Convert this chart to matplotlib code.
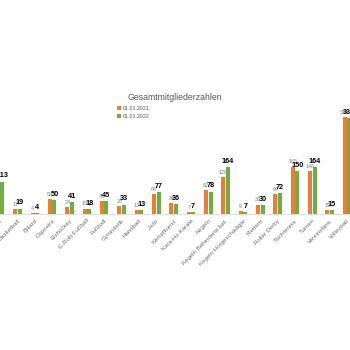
import numpy as np
import matplotlib
matplotlib.use("Agg")
import matplotlib.pyplot as plt

plt.rcParams['font.family'] = ['Liberation Sans', 'DejaVu Sans']

# Data (first category is cut off at the left edge)
categories = ["Ausdauer", "Basketball", "Billard", "Capoeira", "Eishockey",
              "E-Rolli Fußball", "Fußball", "Gymnastik", "Handball", "Judo",
              "Kampfkunst", "Kara-Ho Karate", "Kegeln", "Kegeln Behinderte bef.",
              "Kegeln Hörgeschädigte", "Klettern", "Roller Derby", "Tischtennis",
              "Turnen", "Vereinsfans", "Volleyball"]
v2021 = [110, 17, 4, 52, 24, 19, 45, 28, 13, 68, 39, 7, 82, 128, 9, 33, 69, 165, 148, 15, 338]
v2022 = [113, 19, 4, 50, 41, 18, 45, 33, 13, 77, 36, 7, 78, 164, 7, 30, 72, 150, 164, 15, 333]
series_names = ["01.01.2021", "01.01.2022"]

ORANGE = "#ED7D31"
GREEN = "#70AD47"
GREY = "#595959"

fig = plt.figure(figsize=(3.5, 3.5), dpi=100)
ax = fig.add_axes([0, 136 / 350, 1, 115 / 350])

x = np.arange(len(categories))
w = 0.23
ax.bar(x - 0.13, v2021, width=w, color=ORANGE, label=series_names[0])
ax.bar(x + 0.13, v2022, width=w, color=GREEN, label=series_names[1])

# data labels: small grey for 2021, bold black for 2022
for xi, a, b in zip(x, v2021, v2022):
    ax.annotate(str(a), (xi - 0.13, a), xytext=(0, 1.5), textcoords="offset points",
                ha="center", va="bottom", fontsize=3.9, color="#808080")
    ax.annotate(str(b), (xi + 0.13, b), xytext=(0, 1.5), textcoords="offset points",
                ha="center", va="bottom", fontsize=5.2, color="black", fontweight="bold")

ax.set_xlim(-0.01, 20.17)
ax.set_ylim(0, 400)
ax.set_xticks(x)
ax.set_xticklabels(categories, rotation=45, ha="right", va="top",
                   rotation_mode="anchor", fontsize=4.4, color="#707070")
ax.tick_params(axis="x", length=0, pad=3)
ax.set_yticks([])
for s in ["top", "right", "left"]:
    ax.spines[s].set_visible(False)
ax.spines["bottom"].set_color("#d9d9d9")
ax.spines["bottom"].set_linewidth(0.6)
ax.patch.set_alpha(0)

fig.text(175 / 350, 1 - 98 / 350, "Gesamtmitgliederzahlen", ha="center", va="center",
         fontsize=6.3, color=GREY)
fig.legend(loc="upper left", bbox_to_anchor=(117 / 350, 1 - 106 / 350), frameon=False,
           fontsize=3.8, labelcolor=GREY, handlelength=0.7, handleheight=0.7,
           handletextpad=0.3, labelspacing=0.6, borderaxespad=0, borderpad=0)

fig.savefig("out.png", dpi=100)
